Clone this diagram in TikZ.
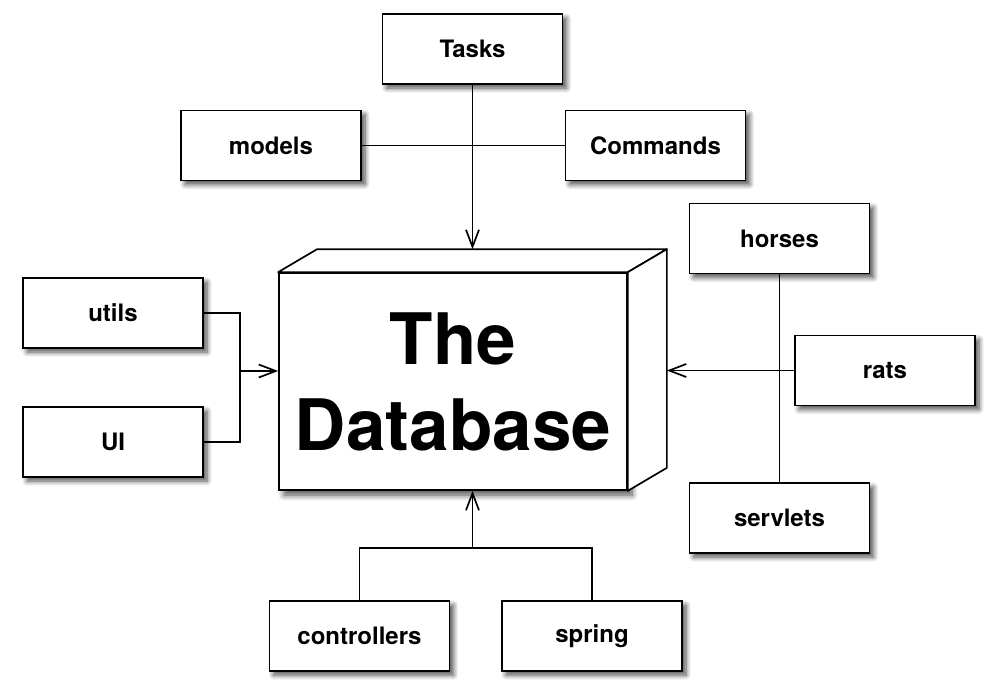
\documentclass[tikz,border=0pt]{standalone}
\usepackage{fontspec}
\setmainfont{TeX Gyre Heros}
\usetikzlibrary{arrows.meta, shadows.blur}

\tikzset{
  modbox/.style={draw, line width=1.7pt, fill=white, minimum width=180pt, minimum height=70pt,
    font=\fontsize{24}{27}\selectfont\bfseries,
    blur shadow={shadow xshift=4pt, shadow yshift=-4pt, shadow blur steps=8, shadow blur radius=5pt, shadow opacity=70}},
  link/.style={line width=1.3pt},
  feed/.style={line width=1.7pt, -{Straight Barb[length=17pt, width=13pt, line width=1.7pt]}}
}

\begin{document}
\begin{tikzpicture}[x=1pt, y=-1pt]
  \useasboundingbox (0,0) rectangle (991,697);

  % the database block (front face + top and side faces)
  \node[draw, line width=1.7pt, fill=white, minimum width=348pt, minimum height=217pt,
        blur shadow={shadow xshift=5pt, shadow yshift=-5pt, shadow blur steps=8, shadow blur radius=6pt, shadow opacity=70},
        align=center, font=\fontsize{71}{86}\selectfont\bfseries] (db) at (453,381.5) {The\\Database};
  \draw[line width=1.7pt, fill=white, line join=round] (db.north west) -- ++(39,-23)
     -- ([shift={(39,-23)}]db.north east) -- (db.north east) -- cycle;
  \draw[line width=1.7pt, fill=white, line join=round] (db.north east) -- ++(39,-23)
     -- ([shift={(39,-23)}]db.south east) -- (db.south east) -- cycle;
  \coordinate (dbback) at ([shift={(39,-23)}]db.north east);

  % modules
  \node[modbox] (tasks)    at (472.5,49)  {Tasks};
  \node[modbox] (models)   at (271,145.5) {models};
  \node[modbox] (commands) at (655.5,145.5) {Commands};
  \node[modbox] (horses)   at (779.5,238.5) {horses};
  \node[modbox] (utils)    at (113,313)   {utils};
  \node[modbox] (ui)       at (113,442)   {UI};
  \node[modbox] (rats)     at (885,370.5) {rats};
  \node[modbox] (servlets) at (779.5,518) {servlets};
  \node[modbox] (ctrl)     at (359.5,636) {controllers};
  \node[modbox] (spring)   at (592,636)   {spring};

  % top group
  \draw[link] (models.east) -- (commands.west);
  \draw[feed] (tasks.south) -- (tasks.south |- dbback);

  % left group
  \coordinate (lj) at (240,371);
  \draw[link] (utils.east) -| (lj) |- (ui.east);
  \draw[feed] (lj) -- (db.west |- lj);

  % right group
  \draw[link] (horses.south) -- (servlets.north);
  \draw[feed] (rats.west) -- (rats.west -| dbback);

  % bottom group
  \coordinate (bj) at (472.5,548);
  \draw[link] (ctrl.north) |- (bj) -| (spring.north);
  \draw[feed] (bj) -- (bj |- db.south);
\end{tikzpicture}
\end{document}
